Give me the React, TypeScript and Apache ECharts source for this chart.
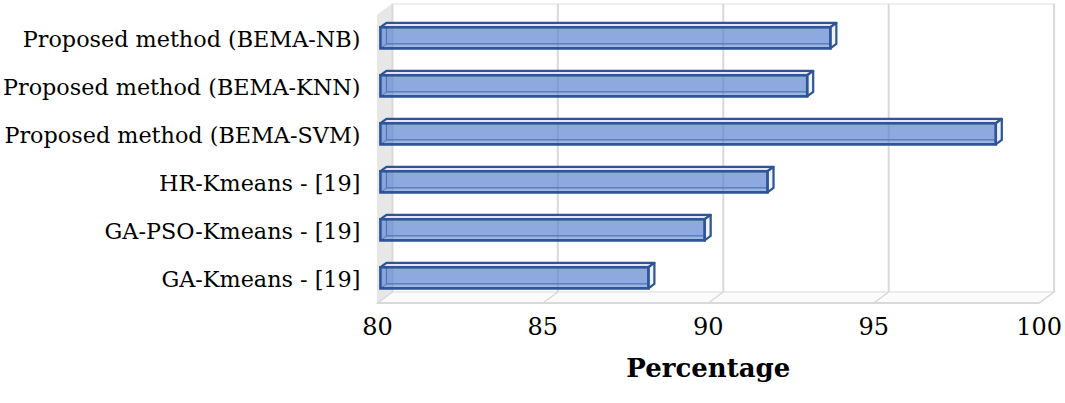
import React, { useEffect, useRef } from "react";
import * as echarts from "echarts";

const categories = [
  "GA-Kmeans - [19]",
  "GA-PSO-Kmeans - [19]",
  "HR-Kmeans - [19]",
  "Proposed method (BEMA-SVM)",
  "Proposed method (BEMA-KNN)",
  "Proposed method (BEMA-NB)",
];
const values = [88.1, 89.8, 91.7, 98.6, 92.9, 93.6];
const ticks = [80, 85, 90, 95, 100];
const axisTitle = "Percentage";

const DX = 15;
const DY = -11;
const FONT = "'DejaVu Serif', serif";

export default function App() {
  const ref = useRef<HTMLDivElement>(null);
  useEffect(() => {
    if (!ref.current) return;
    const chart = echarts.init(ref.current, undefined, { renderer: "svg" });

    const wallsRender = (params: any, api: any) => {
      const cs = params.coordSys;
      const x0 = cs.x, x1 = cs.x + cs.width, y0 = cs.y, y1 = cs.y + cs.height;
      const children: any[] = [];
      children.push({
        type: "polygon",
        shape: { points: [[x0, y1], [x1, y1], [x1 + DX, y1 + DY], [x0 + DX, y1 + DY]] },
        style: { fill: "#fbfbfb", stroke: "#e3e3e3", lineWidth: 1.5 },
      });
      children.push({
        type: "polygon",
        shape: { points: [[x0, y0], [x0 + DX, y0 + DY], [x0 + DX, y1 + DY], [x0, y1]] },
        style: { fill: "#e7e7e7", stroke: "#e7e7e7", lineWidth: 1 },
      });
      children.push({
        type: "rect",
        shape: { x: x0 + DX, y: y0 + DY, width: cs.width, height: cs.height },
        style: { fill: "none", stroke: "#ebebeb", lineWidth: 1.5 },
      });
      ticks.forEach((t) => {
        const px = api.coord([t, 0])[0];
        children.push({
          type: "line",
          shape: { x1: px + DX, y1: y0 + DY, x2: px + DX, y2: y1 + DY },
          style: { stroke: "#d9d9d9", lineWidth: 2 },
        });
        children.push({
          type: "line",
          shape: { x1: px, y1: y1, x2: px + DX, y2: y1 + DY },
          style: { stroke: "#d9d9d9", lineWidth: 1.5 },
        });
      });
      children.push({
        type: "line",
        shape: { x1: x0, y1: y1, x2: x1, y2: y1 },
        style: { stroke: "#d9d9d9", lineWidth: 2 },
      });
      return { type: "group", children };
    };

    const barRender = (params: any, api: any) => {
      const val = api.value(0);
      const cat = api.value(1);
      const p0 = api.coord([80, cat]);
      const p1 = api.coord([val, cat]);
      const band = api.size([0, 1])[1];
      const h = band * 0.44;
      const f = 0.2, b = 0.6;
      const fx = DX * f, fy = DY * f, bx = DX * b, by = DY * b;
      const L = p0[0], R = p1[0];
      const T = p0[1] - h / 2 + 1, B = T + h;
      const edge = "#2E5597";
      const children: any[] = [];
      children.push({
        type: "rect",
        shape: { x: L + bx, y: T + by, width: R - L, height: h },
        style: { fill: "rgba(120,155,215,0.3)", stroke: "#3a62a8", lineWidth: 1.2 },
      });
      children.push({
        type: "polygon",
        shape: { points: [[L + fx, T + fy], [L + bx, T + by], [L + bx, B + by], [L + fx, B + fy]] },
        style: { fill: "rgba(190,206,236,0.6)", stroke: "#3a62a8", lineWidth: 1 },
      });
      children.push({
        type: "polygon",
        shape: { points: [[L + fx, T + fy], [R + fx, T + fy], [R + bx, T + by], [L + bx, T + by]] },
        style: { fill: "#dfe7f6", stroke: edge, lineWidth: 2.2, lineJoin: "round" },
      });
      children.push({
        type: "polygon",
        shape: { points: [[R + fx, T + fy], [R + bx, T + by], [R + bx, B + by], [R + fx, B + fy]] },
        style: { fill: "#eef2fa", stroke: edge, lineWidth: 2.2, lineJoin: "round" },
      });
      children.push({
        type: "rect",
        shape: { x: L + fx, y: T + fy, width: R - L, height: h },
        style: { fill: "rgba(88,130,205,0.58)", stroke: edge, lineWidth: 2.6 },
      });
      return { type: "group", children };
    };

    chart.setOption({
      animation: false,
      backgroundColor: "#ffffff",
      grid: { left: 374, right: 23, top: 15, bottom: 100, containLabel: false },
      xAxis: {
        type: "value",
        min: 80,
        max: 100,
        interval: 5,
        name: axisTitle,
        nameLocation: "middle",
        nameGap: 52,
        nameTextStyle: { fontFamily: FONT, fontSize: 26, fontWeight: "bold", color: "#000" },
        axisLine: { show: false },
        axisTick: { show: false },
        splitLine: { show: false },
        axisLabel: { fontFamily: FONT, fontSize: 24, color: "#000", margin: 12 },
      },
      yAxis: {
        type: "category",
        data: categories,
        axisLine: { show: false },
        axisTick: { show: false },
        splitLine: { show: false },
        axisLabel: { fontFamily: FONT, fontSize: 22.3, color: "#000", margin: 17 },
      },
      series: [
        {
          type: "custom",
          z: 1,
          clip: false,
          renderItem: wallsRender,
          data: [[80, 0]],
          silent: true,
        },
        {
          type: "custom",
          z: 5,
          clip: false,
          renderItem: barRender,
          data: values.map((v, i) => [v, i]),
          encode: { x: 0, y: 1 },
        },
      ],
    });
    return () => chart.dispose();
  }, []);
  return (
    <div
      ref={ref}
      style={{ position: "absolute", left: 0, top: 0, width: 1065, height: 403, background: "#fff" }}
    />
  );
}
